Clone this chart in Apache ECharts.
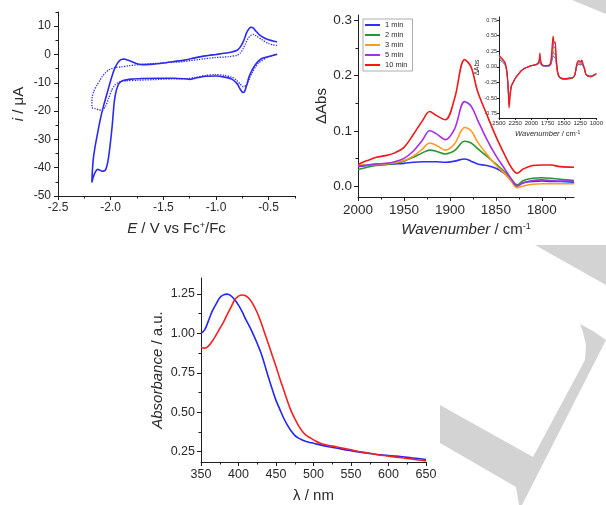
<!DOCTYPE html>
<html><head><meta charset="utf-8">
<script src="https://cdn.jsdelivr.net/npm/echarts@6/dist/echarts.min.js"></script>
<style>html,body{margin:0;padding:0;background:#fff}#c{width:606px;height:505px}</style>
</head><body><div id="c"></div>
<script>
// ---------- Cyclic voltammetry (top left) ----------
const CV_SOLID_LOWER_E = [-0.42,-0.5,-0.57,-0.63,-0.68,-0.71,-0.73,-0.745,-0.77,-0.8,-0.85,-0.92,-1.0,-1.1,-1.2,-1.25,-1.3,-1.4,-1.55,-1.7,-1.8,-1.88,-1.92,-1.945,-1.965,-1.985,-2.005,-2.025,-2.045,-2.065,-2.085,-2.105,-2.125,-2.145,-2.165,-2.178];
const CV_SOLID_LOWER_I = [0.1,-0.7,-1.5,-3.8,-7.3,-11,-13.2,-13.4,-12.3,-10.3,-8.7,-8.0,-7.6,-7.7,-8.4,-8.8,-8.6,-8.4,-8.4,-8.5,-8.7,-9.2,-10.2,-12.5,-16.5,-25,-32,-37.5,-40.5,-41.2,-41.2,-40.8,-40.6,-41.5,-43.3,-45.2];
const CV_SOLID_UPPER_E = [-2.175,-2.165,-2.15,-2.13,-2.1,-2.07,-2.04,-2.01,-1.98,-1.955,-1.93,-1.91,-1.89,-1.87,-1.85,-1.82,-1.78,-1.74,-1.7,-1.6,-1.5,-1.4,-1.3,-1.2,-1.1,-1.0,-0.92,-0.86,-0.8,-0.77,-0.74,-0.71,-0.685,-0.665,-0.645,-0.62,-0.59,-0.55,-0.5,-0.45,-0.42];
const CV_SOLID_UPPER_I = [-42,-37,-33,-29,-23.2,-18.5,-14.5,-10.5,-6.8,-4.4,-2.8,-2.0,-1.7,-1.65,-1.85,-2.2,-2.8,-3.4,-3.6,-3.4,-3.0,-2.5,-2.0,-1.2,-0.5,0.0,0.4,0.8,1.5,2.6,4.6,7.6,9.2,9.6,9.3,8.2,7.0,6.0,5.2,4.7,4.5];
const CV_DOT_LOWER_E = [-0.42,-0.5,-0.6,-0.66,-0.71,-0.74,-0.77,-0.805,-0.85,-0.92,-1.01,-1.1,-1.2,-1.26,-1.35,-1.48,-1.6,-1.74,-1.85,-1.9,-1.93,-1.96,-1.99,-2.02,-2.05,-2.083,-2.115,-2.15,-2.172,-2.178];
const CV_DOT_LOWER_I = [0.0,-0.8,-3.2,-6.7,-10.8,-11.4,-10.5,-9.1,-8.0,-7.4,-7.1,-7.4,-8.1,-8.5,-8.6,-8.7,-8.9,-9.1,-9.3,-9.5,-10.0,-10.8,-12.6,-15.6,-18.4,-19.7,-19.5,-19.1,-18.9,-18.5];
const CV_DOT_UPPER_E = [-2.178,-2.175,-2.16,-2.13,-2.1,-2.083,-2.05,-2.02,-1.99,-1.957,-1.9,-1.83,-1.71,-1.578,-1.45,-1.326,-1.168,-1.01,-0.883,-0.8,-0.77,-0.742,-0.72,-0.695,-0.67,-0.647,-0.62,-0.568,-0.505,-0.46,-0.42];
const CV_DOT_UPPER_I = [-17,-15,-13,-10.8,-9,-7.9,-6.5,-5.5,-5.0,-4.6,-4.4,-4.0,-3.5,-3.2,-2.8,-2.6,-1.8,-1.1,-0.8,-0.3,0.5,2.1,3.8,5.7,6.7,7.1,6.6,5.3,3.9,3.4,3.2];
const CV_X_TICKS = [-2.5,-2.0,-1.5,-1.0,-0.5];
const CV_X_MINOR = [-2.25,-1.75,-1.25,-0.75,-0.25];
const CV_Y_TICKS = [-50,-40,-30,-20,-10,0,10];
const CV_Y_MINOR = [-45,-35,-25,-15,-5,5,15];

// ---------- IR difference spectra (top right) ----------
const IR_NAMES = ['1 min','2 min','3 min','5 min','10 min'];
const IR_WN = [2000,1990,1980,1970,1960,1950,1940,1930,1922,1915,1905,1895,1884,1877,1870,1860,1850,1840,1833,1827,1820,1810,1800,1790,1780,1765];
const IR_1MIN  = [0.035,0.037,0.038,0.039,0.040,0.041,0.043,0.044,0.044,0.044,0.043,0.045,0.049,0.045,0.040,0.037,0.032,0.022,0.010,0.000,0.006,0.008,0.009,0.008,0.008,0.007];
const IR_2MIN  = [0.030,0.034,0.037,0.039,0.041,0.045,0.052,0.060,0.065,0.063,0.058,0.064,0.081,0.078,0.068,0.054,0.040,0.025,0.012,0.002,0.010,0.014,0.015,0.014,0.012,0.010];
const IR_3MIN  = [0.038,0.038,0.039,0.040,0.042,0.046,0.054,0.067,0.078,0.074,0.065,0.076,0.106,0.100,0.080,0.058,0.038,0.022,0.008,-0.003,0.000,0.003,0.004,0.004,0.004,0.004];
const IR_5MIN  = [0.036,0.038,0.040,0.041,0.044,0.050,0.063,0.083,0.100,0.095,0.084,0.103,0.153,0.145,0.120,0.085,0.055,0.030,0.012,0.000,0.006,0.010,0.011,0.010,0.009,0.009];
const IR_10MIN = [0.039,0.046,0.052,0.055,0.060,0.070,0.093,0.118,0.135,0.128,0.120,0.158,0.229,0.216,0.172,0.130,0.090,0.055,0.033,0.023,0.031,0.037,0.038,0.038,0.035,0.034];
const IR_X_TICKS = [2000,1950,1900,1850,1800];
const IR_X_MINOR = [1975,1925,1875,1825,1775];
const IR_Y_TICKS = [0.0,0.1,0.2,0.3];
const IR_Y_MINOR = [0.05,0.15,0.25];

// ---------- IR inset (full range) ----------
const IN_WN = [2500,2450,2410,2380,2360,2345,2330,2310,2280,2250,2200,2150,2100,2050,2000,1950,1900,1880,1870,1860,1840,1800,1750,1710,1690,1675,1665,1650,1635,1620,1600,1575,1540,1480,1420,1360,1330,1300,1270,1240,1225,1200,1180,1160,1130,1080,1040,1000];
const IN_1MIN  = [0.12,0.08,0.04,-0.09,-0.34,-0.52,-0.43,-0.30,-0.24,-0.18,-0.11,-0.05,-0.02,0.00,0.02,0.03,0.04,0.06,0.08,0.05,0.02,0.01,0.01,0.02,0.07,0.15,0.18,0.15,0.16,0.07,-0.09,-0.17,-0.19,-0.20,-0.19,-0.18,-0.13,0.01,0.04,0.03,0.04,0.00,-0.05,-0.13,-0.15,-0.16,-0.14,-0.12];
const IN_2MIN  = [0.15,0.10,0.05,-0.08,-0.32,-0.45,-0.42,-0.30,-0.24,-0.18,-0.11,-0.05,-0.02,0.00,0.02,0.03,0.04,0.07,0.11,0.07,0.03,0.02,0.02,0.03,0.10,0.21,0.25,0.20,0.22,0.10,-0.08,-0.16,-0.19,-0.20,-0.19,-0.18,-0.13,0.02,0.05,0.04,0.06,0.01,-0.05,-0.13,-0.15,-0.16,-0.14,-0.12];
const IN_3MIN  = [0.16,0.11,0.06,-0.07,-0.33,-0.56,-0.44,-0.30,-0.24,-0.18,-0.11,-0.05,-0.02,0.00,0.02,0.03,0.05,0.08,0.14,0.08,0.03,0.02,0.02,0.04,0.12,0.27,0.32,0.25,0.27,0.12,-0.07,-0.15,-0.18,-0.19,-0.18,-0.17,-0.12,0.03,0.07,0.05,0.07,0.02,-0.04,-0.12,-0.14,-0.15,-0.13,-0.11];
const IN_5MIN  = [0.17,0.12,0.07,-0.06,-0.32,-0.60,-0.46,-0.31,-0.24,-0.18,-0.11,-0.05,-0.02,0.00,0.02,0.03,0.05,0.09,0.17,0.10,0.03,0.02,0.02,0.04,0.15,0.33,0.39,0.30,0.32,0.15,-0.06,-0.15,-0.18,-0.19,-0.18,-0.17,-0.12,0.04,0.08,0.06,0.09,0.02,-0.04,-0.12,-0.14,-0.15,-0.13,-0.11];
const IN_10MIN = [0.19,0.13,0.08,-0.05,-0.30,-0.66,-0.50,-0.32,-0.25,-0.19,-0.12,-0.06,-0.02,0.00,0.02,0.03,0.06,0.12,0.22,0.12,0.04,0.02,0.02,0.05,0.20,0.42,0.49,0.38,0.40,0.20,-0.05,-0.15,-0.18,-0.19,-0.18,-0.17,-0.12,0.05,0.10,0.08,0.11,0.03,-0.03,-0.12,-0.14,-0.15,-0.13,-0.11];
const IN_X_TICKS = [2500,2250,2000,1750,1500,1250,1000];
const IN_Y_TICKS = [-0.75,-0.5,-0.25,0,0.25,0.5,0.75];

// ---------- UV-vis (bottom) ----------
const UV_NM = [350,355,360,365,370,375,380,385,390,395,400,405,410,415,420,425,430,435,440,445,450,455,460,465,470,475,480,485,490,495,500,510,520,530,540,550,560,575,590,600,610,625,640,650];
const UV_BLUE = [1.0,1.023,1.08,1.14,1.185,1.225,1.243,1.248,1.237,1.213,1.178,1.135,1.085,1.04,0.99,0.935,0.875,0.8,0.72,0.645,0.575,0.52,0.465,0.42,0.383,0.354,0.336,0.324,0.315,0.309,0.304,0.292,0.282,0.274,0.265,0.257,0.249,0.239,0.23,0.226,0.222,0.214,0.207,0.201];
const UV_RED = [0.91,0.906,0.92,0.95,0.988,1.03,1.07,1.12,1.165,1.212,1.235,1.242,1.236,1.215,1.178,1.13,1.07,1.0,0.93,0.86,0.79,0.715,0.645,0.575,0.51,0.46,0.415,0.38,0.355,0.34,0.325,0.302,0.29,0.282,0.272,0.262,0.252,0.24,0.228,0.222,0.216,0.207,0.198,0.192];
const UV_X_TICKS = [350,400,450,500,550,600,650];
const UV_X_MINOR = [375,425,475,525,575,625];
const UV_Y_TICKS = [0.25,0.5,0.75,1.0,1.25];
const UV_Y_MINOR = [0.375,0.625,0.875,1.125];

const FONT = "'Liberation Sans', Arial, Helvetica, sans-serif";
const INK = '#1e1e1e';
const TXT = '#2a2a2a';
function pairs(xs, ys) { return xs.map((x, i) => [x, ys[i]]); }
function nameStyle(fs) {
  return {
    fontSize: fs, fontFamily: FONT, color: TXT,
    rich: {
      it: { fontStyle: 'italic', fontSize: fs, fontFamily: FONT, color: TXT },
      n: { fontSize: fs, fontFamily: FONT, color: TXT },
      sup: { fontSize: Math.round(fs * 0.6), fontFamily: FONT, color: TXT, verticalAlign: 'top' }
    }
  };
}
function axis(gi, o) {
  return {
    type: 'value', gridIndex: gi, min: o.min, max: o.max, inverse: !!o.inverse,
    axisLine: { show: true, onZero: false, lineStyle: { color: INK, width: 1 } },
    axisTick: { show: true, inside: false, length: o.tickLen || 4, customValues: o.ticks, lineStyle: { color: INK, width: 1 } },
    axisLabel: { show: true, customValues: o.ticks, formatter: o.fmt, fontSize: o.fs, margin: o.margin, color: TXT, fontFamily: FONT },
    splitLine: { show: false },
    name: o.name, nameLocation: 'middle', nameGap: o.nameGap, nameTextStyle: nameStyle(o.nameFs || 15)
  };
}
function minorAxis(gi, o) {
  return {
    type: 'value', gridIndex: gi, min: o.min, max: o.max, inverse: !!o.inverse,
    axisLine: { show: false, onZero: false },
    axisTick: { show: true, inside: false, length: o.len || 2.5, customValues: o.ticks, lineStyle: { color: INK, width: 1 } },
    axisLabel: { show: false }, splitLine: { show: false }
  };
}
const f0 = v => String(Math.round(v));
const f1 = v => (Math.round(v * 10) / 10).toFixed(1);
const f2 = v => (Math.round(v * 100) / 100).toFixed(2);

const CV = { left: 58, top: 12, width: 237, height: 184 };
const IR = { left: 358, top: 15, width: 216, height: 182 };
const INS = { left: 499, top: 17, width: 99, height: 101 };
const UV = { left: 201, top: 278, width: 225, height: 184 };

const CV_BLUE = '#2b2bef';
const IR_COLORS = ['#2f2ff8', '#2a9630', '#ff9a22', '#a62fe6', '#f01818'];
const IR_DATA = [IR_1MIN, IR_2MIN, IR_3MIN, IR_5MIN, IR_10MIN];
const IN_DATA = [IN_1MIN, IN_2MIN, IN_3MIN, IN_5MIN, IN_10MIN];

const series = [];
series.push({ type: 'line', name: 'CV solid', xAxisIndex: 0, yAxisIndex: 0, showSymbol: false, smooth: 0.25,
  data: pairs(CV_SOLID_LOWER_E.concat(CV_SOLID_UPPER_E), CV_SOLID_LOWER_I.concat(CV_SOLID_UPPER_I)),
  lineStyle: { color: CV_BLUE, width: 1.6 }, itemStyle: { color: CV_BLUE } });
series.push({ type: 'line', name: 'CV dotted', xAxisIndex: 0, yAxisIndex: 0, showSymbol: false, smooth: 0.25,
  data: pairs(CV_DOT_LOWER_E.concat(CV_DOT_UPPER_E), CV_DOT_LOWER_I.concat(CV_DOT_UPPER_I)),
  lineStyle: { color: CV_BLUE, width: 1.3, type: [1.3, 1.3] }, itemStyle: { color: CV_BLUE } });
IR_NAMES.forEach((nm, k) => {
  series.push({ type: 'line', name: nm, xAxisIndex: 1, yAxisIndex: 1, showSymbol: false, smooth: 0.35,
    data: pairs(IR_WN, IR_DATA[k]), lineStyle: { color: IR_COLORS[k], width: 1.6 }, itemStyle: { color: IR_COLORS[k] } });
});
IR_NAMES.forEach((nm, k) => {
  series.push({ type: 'line', name: nm + ' (full)', xAxisIndex: 2, yAxisIndex: 2, showSymbol: false, smooth: 0.3,
    data: pairs(IN_WN, IN_DATA[k]), lineStyle: { color: IR_COLORS[k], width: k === 4 ? 1.2 : 0.9 }, itemStyle: { color: IR_COLORS[k] } });
});
series.push({ type: 'line', name: 'UV blue', xAxisIndex: 3, yAxisIndex: 3, showSymbol: false, smooth: 0.4,
  data: pairs(UV_NM, UV_BLUE), lineStyle: { color: '#2525f5', width: 1.6 }, itemStyle: { color: '#2525f5' } });
series.push({ type: 'line', name: 'UV red', xAxisIndex: 3, yAxisIndex: 3, showSymbol: false, smooth: 0.4,
  data: pairs(UV_NM, UV_RED), lineStyle: { color: '#f52020', width: 1.6 }, itemStyle: { color: '#f52020' } });

const GRAY = '#d3d3d3';
const option = {
  animation: false,
  backgroundColor: '#ffffff',
  textStyle: { fontFamily: FONT },
  grid: [CV, IR, INS, UV, CV, IR, UV].map(g => Object.assign({ containLabel: false }, g)),
  xAxis: [
    axis(0, { min: -2.5, max: -0.25, ticks: CV_X_TICKS, fmt: f1, fs: 12, margin: 6, nameGap: 25,
      name: '{it|E}{n| / V vs Fc}{sup|+}{n|/Fc}' }),
    axis(1, { min: 1765, max: 2000, inverse: true, ticks: IR_X_TICKS, fmt: f0, fs: 13.5, margin: 6, nameGap: 25,
      name: '{it|Wavenumber}{n| / cm}{sup|-1}' }),
    axis(2, { min: 1000, max: 2500, inverse: true, ticks: IN_X_TICKS, fmt: f0, fs: 6, margin: 2, tickLen: 2, nameGap: 12, nameFs: 7.5,
      name: '{it|Wavenumber}{n| / cm}{sup|-1}' }),
    axis(3, { min: 350, max: 650, ticks: UV_X_TICKS, fmt: f0, fs: 12.5, margin: 6, nameGap: 26,
      name: 'λ / nm' }),
    minorAxis(4, { min: -2.5, max: -0.25, ticks: CV_X_MINOR }),
    minorAxis(5, { min: 1765, max: 2000, inverse: true, ticks: IR_X_MINOR }),
    minorAxis(6, { min: 350, max: 650, ticks: UV_X_MINOR })
  ],
  yAxis: [
    axis(0, { min: -50, max: 15, ticks: CV_Y_TICKS, fmt: f0, fs: 12, margin: 7, nameGap: 32,
      name: '{it|i}{n| / μA}' }),
    axis(1, { min: -0.02, max: 0.31, ticks: IR_Y_TICKS, fmt: f1, fs: 13.5, margin: 6, nameGap: 28,
      name: 'ΔAbs' }),
    axis(2, { min: -0.82, max: 0.8, ticks: IN_Y_TICKS, fmt: f2, fs: 5.5, margin: 2, tickLen: 2, nameGap: 15, nameFs: 6.5,
      name: 'ΔAbs' }),
    axis(3, { min: 0.185, max: 1.35, ticks: UV_Y_TICKS, fmt: f2, fs: 12.5, margin: 6, nameGap: 36,
      name: '{it|Absorbance}{n| / a.u.}' }),
    minorAxis(4, { min: -50, max: 15, ticks: CV_Y_MINOR }),
    minorAxis(5, { min: -0.02, max: 0.31, ticks: IR_Y_MINOR }),
    minorAxis(6, { min: 0.185, max: 1.35, ticks: UV_Y_MINOR })
  ],
  legend: {
    data: IR_NAMES, orient: 'vertical', left: 363, top: 19, icon: 'rect',
    itemWidth: 15, itemHeight: 2, itemGap: 2, itemTextGap: 3,
    padding: [2, 5, 2, 2], borderColor: '#8a8a8a', borderWidth: 0.7, backgroundColor: '#fff',
    textStyle: { fontSize: 7.5, lineHeight: 8, color: TXT, fontFamily: FONT },
    selectedMode: false
  },
  graphic: [
    { type: 'polygon', silent: true, z: -10, shape: { points: [[572, 0], [606, 0], [606, 14]] }, style: { fill: GRAY } },
    { type: 'polygon', silent: true, z: -10, shape: { points: [[535, 245], [606, 245], [606, 285]] }, style: { fill: GRAY } },
    { type: 'polygon', silent: true, z: -10, shape: { points: [[440, 405], [533, 457], [585, 360], [586, 345], [583, 332], [580, 324], [593, 331], [606, 340], [522, 505], [519, 505], [516, 487], [440, 443]] }, style: { fill: GRAY } }
  ],
  series: series
};
const chart = echarts.init(document.getElementById('c'), null, { renderer: 'canvas', width: 606, height: 505 });
chart.setOption(option);
</script></body></html>
